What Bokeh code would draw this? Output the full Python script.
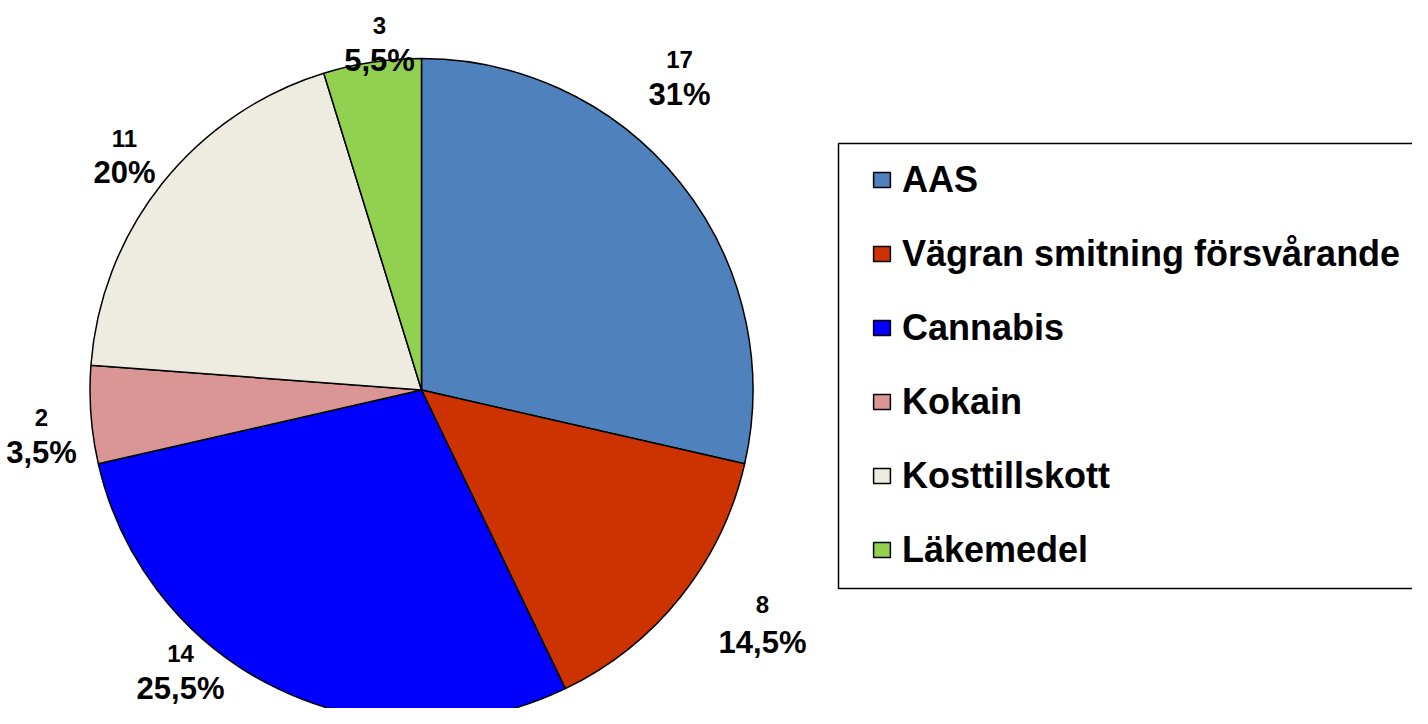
import numpy as np
from bokeh.plotting import figure
from bokeh.models import ColumnDataSource, Range1d, Legend, LegendItem, BoxAnnotation
from bokeh.core.properties import value
from bokeh.embed import file_html
from bokeh.resources import INLINE

# ---- data ----
categories = ["AAS", "Vägran smitning försvårande", "Cannabis", "Kokain", "Kosttillskott", "Läkemedel"]
counts = [17, 8, 14, 2, 11, 3]
percent_labels = ["31%", "14,5%", "25,5%", "3,5%", "20%", "5,5%"]
slice_sizes = [6, 3, 6, 1, 4, 1]   # relative slice sizes as drawn in the pie
colors = ["#4F81BD", "#CC3300", "#0000FF", "#DA9694", "#EEECE1", "#92D050"]

# ---- layout ----
W, H = 1412, 708
FONT = "Liberation Sans"

def to_x(wx):
    return wx - 8

def to_y(wy):
    return 716 - wy

cx, cy, R = to_x(429), to_y(397.5), 331.5

sizes = np.array(slice_sizes, dtype=float)
fracs = sizes / sizes.sum()
ends_cum = np.cumsum(fracs)
starts_cum = ends_cum - fracs
start_angle = np.pi / 2 - starts_cum * 2 * np.pi
end_angle = np.pi / 2 - ends_cum * 2 * np.pi

src = ColumnDataSource(dict(
    cat=categories, color=colors,
    start=start_angle, end=end_angle,
    x=[cx] * len(categories), y=[cy] * len(categories),
))

p = figure(width=W, height=H, output_backend="svg", toolbar_location=None,
           x_range=Range1d(0, W), y_range=Range1d(0, H),
           x_axis_location=None, y_axis_location=None, min_border=0)
p.grid.visible = False
p.outline_line_color = None
p.background_fill_color = "white"
p.border_fill_color = "white"

r = p.wedge(x="x", y="y", radius=R, start_angle="start", end_angle="end",
            direction="clock", fill_color="color", line_color="black",
            line_width=1.5, source=src)

# data labels (window-pixel anchor positions: x centre, baselines of two lines)
label_x = [687, 770, 188, 49, 132, 387]
base1 = [66.7, 611.7, 661, 425, 146, 33.3]
base2 = [101.5, 650, 696, 460, 180, 68.3]

lab1 = ColumnDataSource(dict(x=[to_x(v) for v in label_x], y=[to_y(v) for v in base1],
                             t=[str(c) for c in counts]))
lab2 = ColumnDataSource(dict(x=[to_x(v) for v in label_x], y=[to_y(v) for v in base2],
                             t=percent_labels))
p.text(x="x", y="y", text="t", source=lab1, text_font=value(FONT), text_font_style="bold",
       text_font_size="24px", text_align="center", text_baseline="alphabetic", text_color="black")
p.text(x="x", y="y", text="t", source=lab2, text_font=value(FONT), text_font_style="bold",
       text_font_size="31px", text_align="center", text_baseline="alphabetic", text_color="black")

# legend frame
frame = BoxAnnotation(left=to_x(846), right=W + 50, top=to_y(151), bottom=to_y(596),
                      fill_color=None, fill_alpha=0, line_color="black", line_alpha=1.0,
                      line_width=1.5)
p.add_layout(frame)

items = [LegendItem(label=c, renderers=[r], index=i) for i, c in enumerate(categories)]
legend = Legend(items=items, location=(871, 133), padding=0, margin=0,
                border_line_color=None, background_fill_alpha=0,
                glyph_width=21, glyph_height=19, label_standoff=10,
                label_height=51, spacing=23,
                label_text_font=FONT, label_text_font_style="bold",
                label_text_font_size="36px", label_text_color="black")
p.add_layout(legend)

open("out.html", "w").write(file_html(p, INLINE))
